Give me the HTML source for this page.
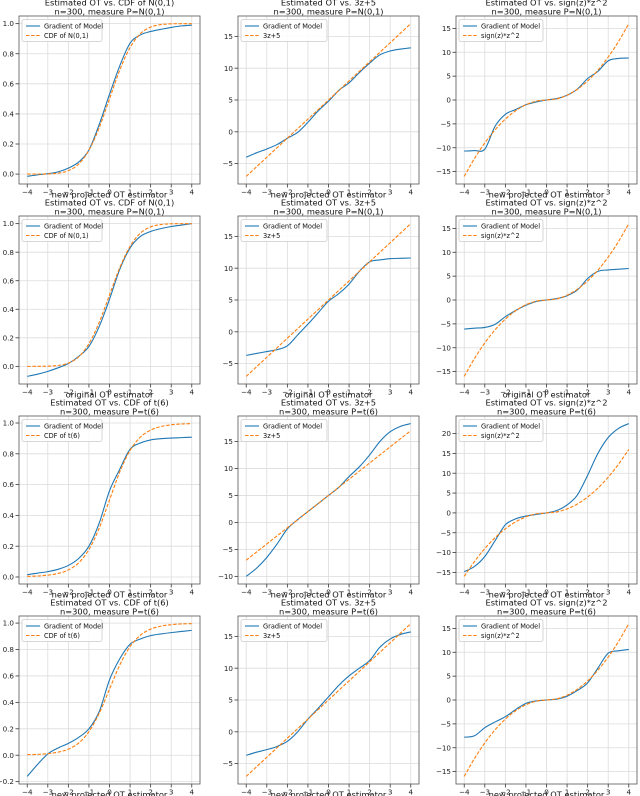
<!DOCTYPE html>
<html><head><meta charset="utf-8">
<style>
html,body{margin:0;padding:0;background:#fff;}
svg{display:block;font-family:"DejaVu Sans","Liberation Sans",sans-serif;}
</style></head>
<body>
<svg id="fig" width="640" height="796" viewBox="0 0 640 796" xmlns="http://www.w3.org/2000/svg"></svg>
<script>
const xs = [-4,-3.5,-3,-2.5,-2,-1.5,-1,-0.5,0,0.5,1,1.5,2,2.5,3,3.5,4];
const normCdf = [0,0.0002,0.0013,0.0062,0.0228,0.0668,0.1587,0.3085,0.5,0.6915,0.8413,0.9332,0.9772,0.9938,0.9987,0.9998,1.0];
const tCdf = [0.0041,0.0064,0.012,0.023,0.046,0.092,0.178,0.3174,0.5,0.6826,0.822,0.908,0.954,0.977,0.988,0.9936,0.9959];
const linRef = [-7,-5.5,-4,-2.5,-1,0.5,2,3.5,5,6.5,8,9.5,11,12.5,14,15.5,17];
const sqRef = [-16,-12.25,-9,-6.25,-4,-2.25,-1,-0.25,0,0.25,1,2.25,4,6.25,9,12.25,16];

const r1c1 = [-0.015,-0.005,0.003,0.015,0.04,0.08,0.16,0.33,0.53,0.72,0.87,0.925,0.948,0.962,0.975,0.985,0.99];
const r1c2 = [-4,-3.3,-2.7,-2,-1,-0.1,1.5,3.3,4.8,6.5,7.7,9.3,10.8,12.1,12.7,13.0,13.2];
const r1c3 = [-10.7,-10.6,-10.3,-5.5,-3,-2,-1,-0.4,0,0.3,1,2.3,4.5,6,8.2,8.7,8.8];
const r2c1 = [-0.07,-0.055,-0.035,-0.01,0.02,0.07,0.14,0.28,0.47,0.68,0.83,0.91,0.945,0.965,0.98,0.99,1.0];
const r2c2 = [-3.7,-3.4,-3.1,-2.8,-2.2,-0.5,1.2,3,4.8,6,7.5,9.5,11,11.3,11.5,11.55,11.6];
const r2c3 = [-6.1,-5.9,-5.75,-5.1,-3.5,-2.2,-1.1,-0.3,0,0.3,0.9,2.1,4.5,6,6.3,6.45,6.6];
const r3c1 = [0.015,0.025,0.035,0.05,0.075,0.12,0.2,0.35,0.56,0.7,0.83,0.87,0.89,0.898,0.902,0.905,0.908];
const r3c2 = [-10,-8.5,-6.5,-4,-1.2,0.5,2,3.5,5,6.5,8.5,10.3,12.5,15,16.8,17.8,18.3];
const r3c3 = [-14.8,-13.5,-11,-7,-3,-1.5,-0.8,-0.4,0,0.6,2,4.5,9.5,15,19,21.3,22.5];
const r4c1 = [-0.16,-0.07,0.01,0.055,0.09,0.135,0.2,0.33,0.57,0.73,0.84,0.88,0.905,0.918,0.928,0.937,0.945];
const r4c2 = [-3.7,-3.2,-2.8,-2.3,-1.5,0,2,3.7,5.5,7.3,8.8,10,11.2,13.3,14.6,15.3,15.7];
const r4c3 = [-7.8,-7.5,-5.8,-4.6,-3.5,-2,-0.7,-0.2,0,0.2,0.8,2,3.6,6.7,9.8,10.3,10.6];

const xTicks = [-4,-3,-2,-1,0,1,2,3,4];
const titlesCol = ["Estimated OT vs. CDF of ", "Estimated OT vs. 3z+5", "Estimated OT vs. sign(z)*z^2"];
const refLabels = ["CDF of ", "3z+5", "sign(z)*z^2"];
const rowMeasure = ["N(0,1)","N(0,1)","t(6)","t(6)"];
const rowXlabel = ["new projected OT estimator","original OT estimator","new projected OT estimator","new projected OT estimator"];
const blueSeries = [[r1c1,r1c2,r1c3],[r2c1,r2c2,r2c3],[r3c1,r3c2,r3c3],[r4c1,r4c2,r4c3]];

const NS = "http://www.w3.org/2000/svg";
const svg = document.getElementById('fig');
function mk(tag, attrs, parent){const e=document.createElementNS(NS,tag);for(const k in attrs)e.setAttribute(k,attrs[k]);(parent||svg).appendChild(e);return e;}

const lefts = [19,238,456], W = 181, H = 168, tops = [16,216,416,616];
function smoothPath(pts){
  let d = `M${pts[0][0].toFixed(2)},${pts[0][1].toFixed(2)}`;
  for(let i=0;i<pts.length-1;i++){
    const p0=pts[Math.max(0,i-1)],p1=pts[i],p2=pts[i+1],p3=pts[Math.min(pts.length-1,i+2)];
    const c1x=p1[0]+(p2[0]-p0[0])/6,c1y=p1[1]+(p2[1]-p0[1])/6;
    const c2x=p2[0]-(p3[0]-p1[0])/6,c2y=p2[1]-(p3[1]-p1[1])/6;
    d+=` C${c1x.toFixed(2)},${c1y.toFixed(2)} ${c2x.toFixed(2)},${c2y.toFixed(2)} ${p2[0].toFixed(2)},${p2[1].toFixed(2)}`;
  }
  return d;
}

for(let r=0;r<4;r++){
  for(let c=0;c<3;c++){
    const L=lefts[c], T=tops[r];
    const blue = blueSeries[r][c];
    const ref = c===0 ? (rowMeasure[r]==="t(6)"?tCdf:normCdf) : (c===1?linRef:sqRef);
    const all = blue.concat(ref);
    let mn=Math.min(...all), mx=Math.max(...all);
    const pad=(mx-mn)*0.05; const y0=mn-pad, y1=mx+pad;
    const xmin=-4.4, xmax=4.4;
    const sx=v=>L+(v-xmin)/(xmax-xmin)*W;
    const sy=v=>T+H-(v-y0)/(y1-y0)*H;
    const g = mk('g',{});
    
    
    const step = (y1-y0)<3 ? 0.2 : 5;
    const yTicks=[];
    for(let v=Math.ceil(y0/step-1e-9)*step; v<=y1+1e-9; v+=step) yTicks.push(Math.round(v/step)*step);
    for(const t of xTicks){
      const gl=mk('line',{x1:sx(t),x2:sx(t),y1:T,y2:T+H,stroke:'#dcdcdc','stroke-width':0.8},g);
      
      
      mk('line',{x1:sx(t),x2:sx(t),y1:T+H,y2:T+H+3.5,stroke:'#333','stroke-width':0.8},g);
      const tl=mk('text',{x:sx(t),y:T+H+10.5,'font-size':7.2,'text-anchor':'middle',fill:'#222'},g);
      tl.textContent = t<0 ? '\u2212'+Math.abs(t) : String(t);
      
      
    }
    for(const t of yTicks){
      const yy=sy(t);
      const gl=mk('line',{x1:L,x2:L+W,y1:yy,y2:yy,stroke:'#dcdcdc','stroke-width':0.8},g);
      
      
      mk('line',{x1:L-3.5,x2:L,y1:yy,y2:yy,stroke:'#333','stroke-width':0.8},g);
      const lab = step<1 ? t.toFixed(1) : String(t);
      const tl=mk('text',{x:L-5,y:yy+2.6,'font-size':7.2,'text-anchor':'end',fill:'#222'},g);
      tl.textContent = lab.replace('-','\u2212');
      
      
    }
    const bp=mk('path',{d:smoothPath(xs.map((x,i)=>[sx(x),sy(blue[i])])),fill:'none',stroke:'#1f77b4','stroke-width':1.1},g);
    
    
    const op=mk('path',{d:smoothPath(xs.map((x,i)=>[sx(x),sy(ref[i])])),fill:'none',stroke:'#ff7f0e','stroke-width':1.1,'stroke-dasharray':'3.5,1.6'},g);
    
    
    const fr=mk('rect',{x:L,y:T,width:W,height:H,fill:'none',stroke:'#555','stroke-width':0.8},g);
    
    
    const t1=mk('text',{x:L+W/2,y:T-10.5,'font-size':8.3,'text-anchor':'middle',fill:'#111'},g);
    t1.textContent = c===0 ? titlesCol[0]+rowMeasure[r] : titlesCol[c];
    
    
    const t2=mk('text',{x:L+W/2,y:T-1.5,'font-size':8.3,'text-anchor':'middle',fill:'#111'},g);
    t2.textContent = 'n=300, measure P='+rowMeasure[r];
    
    
    const xl=mk('text',{x:L+W/2,y:T+H+13.5,'font-size':8.3,'text-anchor':'middle',fill:'#111'},g);
    xl.textContent = rowXlabel[r];
    
    
    const lw=[80,86,84][c];
    const lg=mk('g',{},g);
    
    
    mk('rect',{x:L+3,y:T+3.5,width:lw,height:22,rx:2,fill:'#fff','fill-opacity':0.85,stroke:'#ccc','stroke-width':0.8},lg);
    mk('line',{x1:L+7,x2:L+21,y1:T+10,y2:T+10,stroke:'#1f77b4','stroke-width':1.1},lg);
    mk('line',{x1:L+7,x2:L+21,y1:T+19.5,y2:T+19.5,stroke:'#ff7f0e','stroke-width':1.1,'stroke-dasharray':'3.5,1.6'},lg);
    const le1=mk('text',{x:L+25,y:T+12.5,'font-size':6.6,fill:'#111'},lg);
    le1.textContent='Gradient of Model';
    
    
    const le2=mk('text',{x:L+25,y:T+22,'font-size':6.6,fill:'#111'},lg);
    le2.textContent = c===0 ? refLabels[0]+rowMeasure[r] : refLabels[c];
    
    
  }
}
</script>
</body></html>
